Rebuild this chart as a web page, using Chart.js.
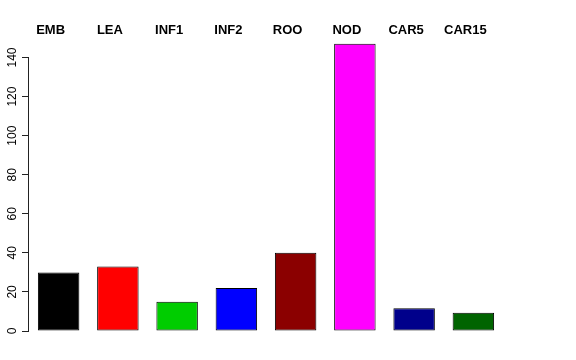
<!DOCTYPE html>
<html>
<head>
<meta charset="utf-8">
<script src="https://cdn.jsdelivr.net/npm/chart.js@4"></script>
<style>
  html, body { margin: 0; padding: 0; background: #fff; }
  #wrap { width: 576px; height: 360px; }
</style>
</head>
<body>
<div id="wrap"><canvas id="barChart"></canvas></div>
<script>
// data
const categories = ['EMB', 'LEA', 'INF1', 'INF2', 'ROO', 'NOD', 'CAR5', 'CAR15'];
const counts = [30, 33, 15, 22, 40, 147, 11.6, 9.4];
const barColors = ['#000000', '#FF0000', '#00CD00', '#0000FF', '#8B0000', '#FF00FF', '#00008B', '#006400'];
const yTicks = [0, 20, 40, 60, 80, 100, 120, 140];

// R style y axis: line only spans first to last tick, labels centred on the ticks and turned
const rAxis = {
    id: 'rAxis',
    afterDraw(chart) {
        const y = chart.scales.y;
        const c = chart.ctx;
        const x = chart.chartArea.left - 0.5;
        c.save();
        c.strokeStyle = '#222';
        c.lineWidth = 1;
        c.beginPath();
        c.moveTo(x, y.getPixelForValue(yTicks[0]));
        c.lineTo(x, y.getPixelForValue(yTicks[yTicks.length - 1]));
        c.stroke();

        c.fillStyle = '#000';
        c.font = '12px "Liberation Sans", Arial, sans-serif';
        c.textAlign = 'center';
        c.textBaseline = 'middle';
        yTicks.forEach(v => {
            c.save();
            c.translate(13, y.getPixelForValue(v));
            c.rotate(-Math.PI / 2);
            c.fillText(String(v), 0, 0);
            c.restore();
        });
        c.restore();
    }
};

const ctx = document.getElementById('barChart').getContext('2d');
new Chart(ctx, {
    type: 'bar',
    data: {
        labels: categories,
        datasets: [{
            data: counts,
            backgroundColor: barColors,
            borderColor: '#000',
            borderWidth: 1,
            borderSkipped: false,
            categoryPercentage: 1,
            barPercentage: 0.7,
        }],
    },
    options: {
        responsive: true,
        maintainAspectRatio: false,
        animation: false,
        layout: {
            padding: { top: 10, right: 73, bottom: 29, left: 0 },
        },
        plugins: {
            legend: { display: false },
            tooltip: { enabled: false },
        },
        scales: {
            x: {
                position: 'top',
                grid: { display: false, drawTicks: false },
                border: { display: false },
                ticks: {
                    color: '#000',
                    padding: 0,
                    labelOffset: -8,
                    maxRotation: 0,
                    font: { family: 'Liberation Sans, Arial, sans-serif', size: 13, weight: 'bold' },
                },
                afterFit(scale) { scale.height = 28; },
            },
            y: {
                min: 0,
                max: 150,
                grid: { drawOnChartArea: false, drawTicks: true, tickLength: 7, color: '#222' },
                border: { display: false },
                ticks: {
                    // labels drawn by the rAxis plugin
                    color: 'rgba(0,0,0,0)',
                    padding: 4,
                    font: { size: 12 },
                },
                afterBuildTicks(scale) {
                    scale.ticks = yTicks.map(v => ({ value: v }));
                },
                afterFit(scale) { scale.width = 29; },
            },
        },
    },
    plugins: [rAxis],
});
</script>
</body>
</html>
